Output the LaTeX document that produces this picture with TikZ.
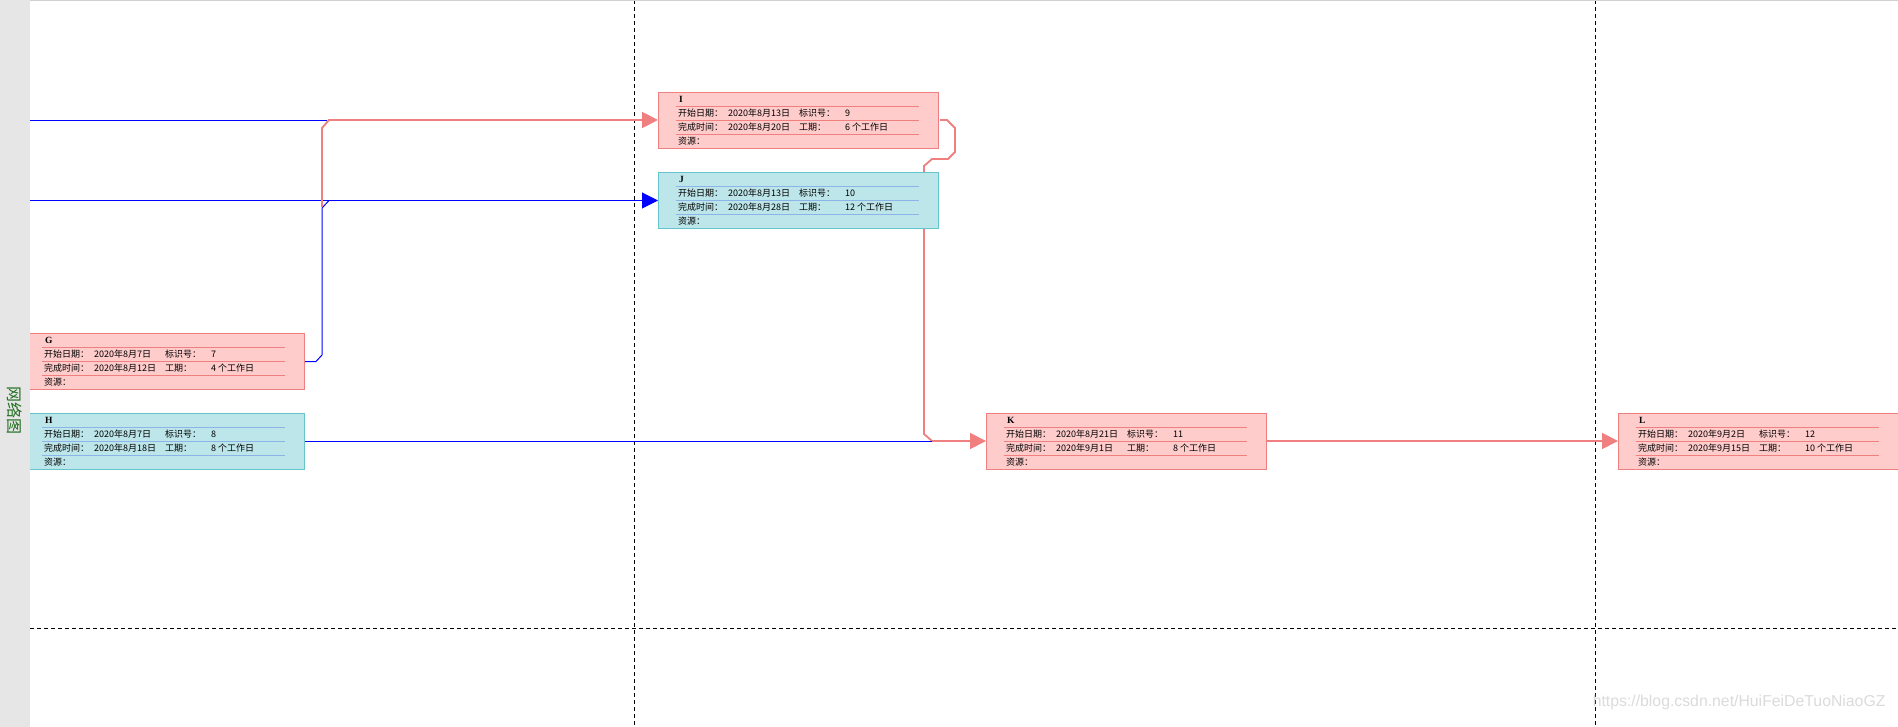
\documentclass[tikz,border=0pt]{standalone}
\usepackage{fontspec}
\setmainfont{Liberation Serif}
\newfontfamily\cjk{Noto Sans CJK SC}
\newfontfamily\urlfont{Liberation Sans}
\usetikzlibrary{arrows.meta}

\definecolor{pinkfill}{RGB}{255,204,204}
\definecolor{pinkline}{RGB}{240,128,128}
\definecolor{cyanfill}{RGB}{189,230,234}
\definecolor{cyanline}{RGB}{102,196,204}
\definecolor{cyanrule}{RGB}{140,180,230}
\definecolor{bargray}{RGB}{230,230,230}
\definecolor{labelgreen}{RGB}{34,110,34}

\tikzset{
  pinkbox/.style={draw=pinkline, fill=pinkfill, minimum width=280pt, minimum height=56pt, inner sep=0pt},
  cyanbox/.style={draw=cyanline, fill=cyanfill, minimum width=280pt, minimum height=56pt, inner sep=0pt},
  pinkrule/.style={draw=pinkline, line width=0.8pt},
  cyanrule/.style={draw=cyanrule, line width=0.8pt},
  titletext/.style={anchor=west, inner sep=0pt, font=\bfseries\fontsize{9.5}{9.5}\selectfont},
  rowtext/.style={anchor=west, inner sep=0pt, font=\cjk\fontsize{9}{9}\selectfont},
  pinklink/.style={draw=pinkline, line width=1.8pt},
  bluelink/.style={draw=blue, line width=1pt},
  tip/.style={-{Triangle[length=16pt, width=16pt]}},
  grid/.style={dashed, dash pattern=on 4pt off 3pt, line width=0.9pt},
}

% one task box: name, x, y (top left), kind, title, start, id, finish, duration
\newcommand{\netnode}[9]{%
  \node[#4box] (#1) at (#2+140,#3+28) {};
  \begin{scope}[shift={(#2,#3)}]
    \node[titletext] (#1-t) at (21,7.5) {#5};
    \foreach \yy in {14,28,42}
      \draw[#4rule] (18,\yy) -- (261,\yy);
    \node[rowtext] (#1-a) at (20,21) {\makebox[50pt][l]{开始日期：}\makebox[71pt][l]{#6}\makebox[46pt][l]{标识号：}#7};
    \node[rowtext] (#1-b) at (20,35) {\makebox[50pt][l]{完成时间：}\makebox[71pt][l]{#8}\makebox[46pt][l]{工期：}#9 个工作日};
    \node[rowtext] (#1-c) at (20,49) {资源：};
  \end{scope}}

\begin{document}
\begin{tikzpicture}[x=1pt, y=-1pt]
  \useasboundingbox (0,0) rectangle (1898,727);
  \fill[white] (0,0) rectangle (1898,727);

  % grid lines
  \draw[grid] (634,0) -- (634,727);
  \draw[grid] (1595,0) -- (1595,727);
  \draw[grid] (30,628) -- (1898,628);
  \draw[gray!35, line width=0.8pt] (0,0.5) -- (1898,0.5);

  % watermark
  \node[font=\urlfont\fontsize{15.8}{15.8}\selectfont, text=gray!28, anchor=east] (mark) at (1889,702) {https://blog.csdn.net/HuiFeiDeTuoNiaoGZ};

  % connectors behind the boxes
  \coordinate (leftI) at (30,120.5);
  \coordinate (leftJ) at (30,200.5);
  \coordinate (joinG) at (322,207);
  \coordinate (joinH) at (932,441.5);

  \draw[pinklink, tip] (940,120) -- (947,120) -- (955,128) -- (955,152) -- (948,159)
    -- (932,159) -- (924,166) -- (924,434) -- (932,441) -- (986,441);
  \draw[bluelink] (304,441.5) -- (joinH);
  \draw[bluelink] (leftI) -- (327,120.5);
  \draw[bluelink, tip] (leftJ) -- (658,200.5);
  \draw[bluelink] (304,361.5) -- (316,361.5) -- (322,355) -- (322,208) -- (329,200.5);
  \draw[pinklink, tip] (joinG) -- (322,128) -- (329,120) -- (658,120);
  \draw[pinklink, tip] (1266,441) -- (1618,441);

  % task boxes
  \netnode{G}{24}{333}{pink}{G}{2020年8月7日}{7}{2020年8月12日}{4}
  \netnode{H}{24}{413}{cyan}{H}{2020年8月7日}{8}{2020年8月18日}{8}
  \netnode{I}{658}{92}{pink}{I}{2020年8月13日}{9}{2020年8月20日}{6}
  \netnode{J}{658}{172}{cyan}{J}{2020年8月13日}{10}{2020年8月28日}{12}
  \netnode{K}{986}{413}{pink}{K}{2020年8月21日}{11}{2020年9月1日}{8}
  \netnode{L}{1618}{413}{pink}{L}{2020年9月2日}{12}{2020年9月15日}{10}

  % side bar
  \fill[bargray] (0,0) rectangle (30,727);
  \node[rotate=-90, text=labelgreen, font=\cjk\fontsize{16}{16}\selectfont] (bar) at (15,410) {网络图};
\end{tikzpicture}
\end{document}
